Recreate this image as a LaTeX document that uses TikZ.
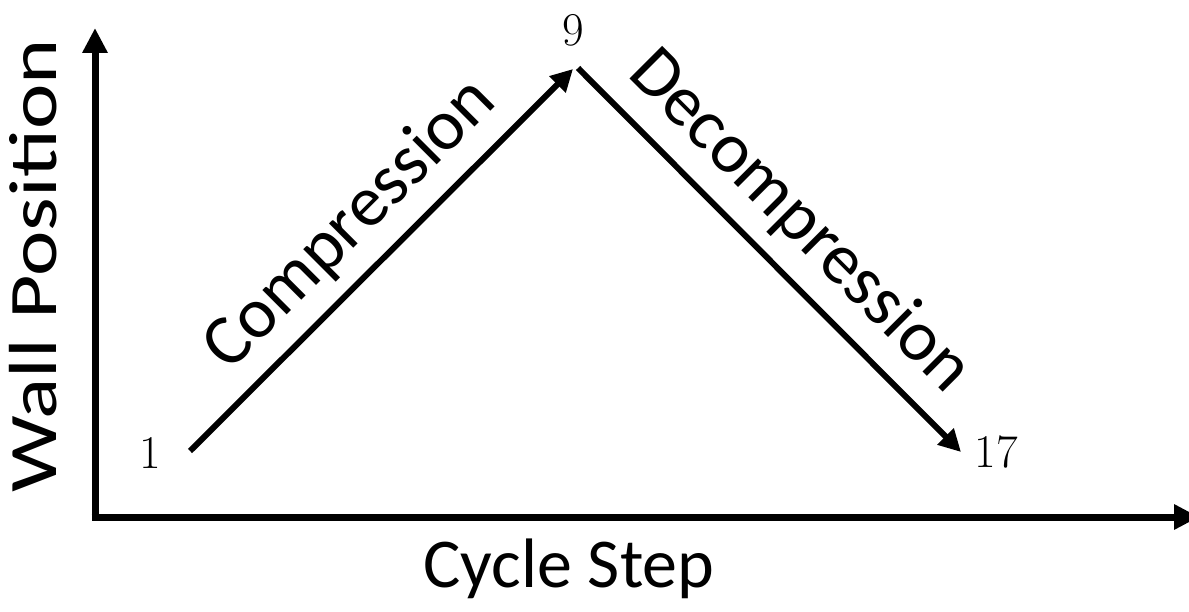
\documentclass[tikz,border=0pt]{standalone}
\usepackage{fontspec}
\setmainfont{Carlito}
\newfontfamily\numfont{Latin Modern Roman}
\usetikzlibrary{arrows.meta}
\begin{document}
\begin{tikzpicture}[x=1pt,y=1pt,
  axis/.style={line width=7pt, -{Triangle[length=25pt,width=24pt]}},
  ramp/.style={line width=6pt, -{Triangle[length=22pt,width=22pt]}},
  big/.style={font=\fontsize{68}{80}\selectfont, inner sep=0pt},
  slant/.style={font=\fontsize{72}{80}\selectfont, inner sep=0pt},
  num/.style={font=\numfont\fontsize{47}{50}\selectfont, inner sep=0pt}]
\clip (0,0) rectangle (1189,611);
\coordinate (vb) at (95,90.5);
\coordinate (vt) at (95,583);
\coordinate (hl) at (91.5,94);
\coordinate (hr) at (1199,94);
\coordinate (s1) at (190,160);
\coordinate (e9) at (573,542);
\coordinate (s9) at (578,543);
\coordinate (e17) at (961,159);
\draw[axis] (vb) -- (vt);
\draw[axis] (hl) -- (hr);
\draw[ramp] (s1) -- (e9);
\draw[ramp] (s9) -- (e17);
\node[num] (n1) at (150,158) {1};
\node[num] (n9) at (573,581) {9};
\node[num] (n17) at (996,159) {17};
\node[slant, rotate=45, anchor=base] (comp) at (364,373) {Compression};
\node[slant, rotate=-45, anchor=base] (decomp) at (786,376) {Decompression};
\node[big, font=\fontsize{70}{80}\selectfont, anchor=base] (xlab) at (569,24) {Cycle Step};
\node[big, rotate=90, anchor=base] (ylab) at (57,345) {\scalebox{1.266}[1]{Wall Position}};
\end{tikzpicture}
\end{document}
